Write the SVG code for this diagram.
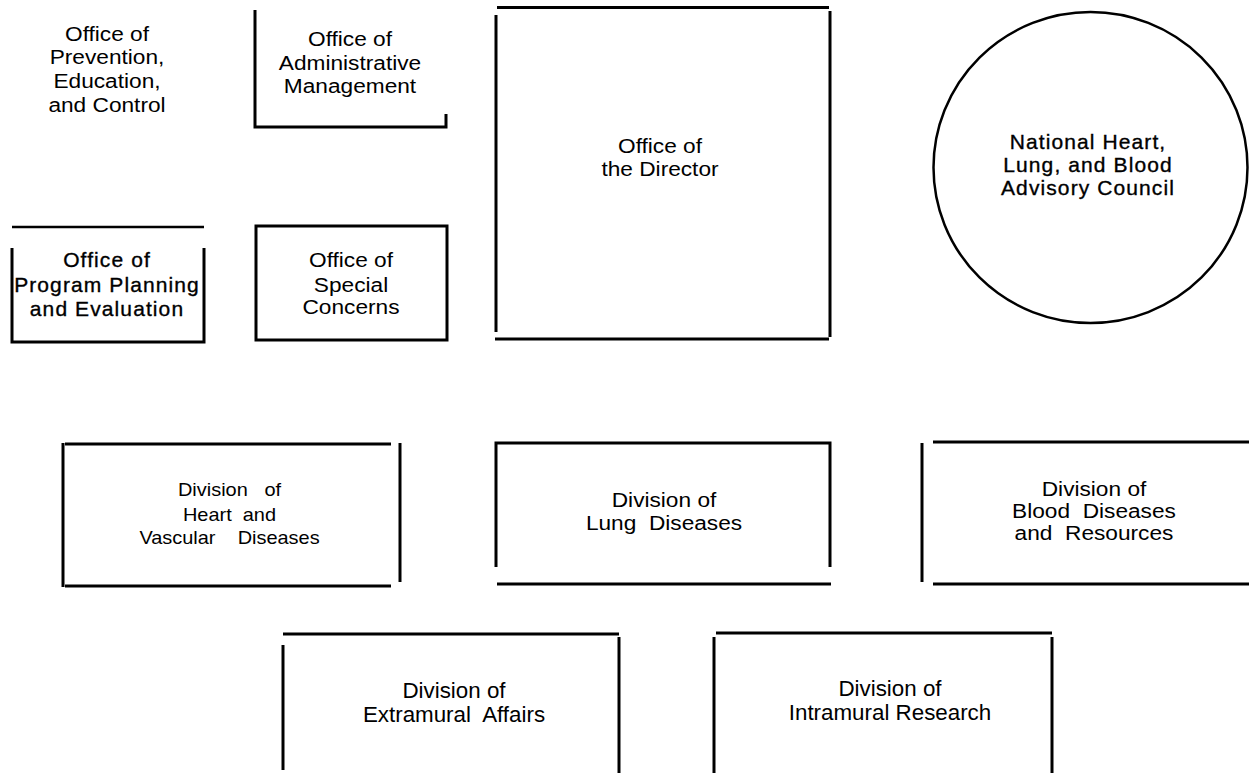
<svg xmlns="http://www.w3.org/2000/svg" width="1249" height="773" viewBox="0 0 1249 773">
<style>
.ln{fill:none;stroke:#000;stroke-width:3;stroke-linecap:butt}
.tn{stroke-width:2.5}
.t{font-family:"Liberation Sans",Arial,sans-serif;font-size:21px;fill:#000;text-anchor:middle;white-space:pre}
.b{letter-spacing:1.1px;stroke:#000;stroke-width:0.35}
.s19{font-size:19px}
.s22{font-size:21.5px}
</style>
<rect width="1249" height="773" fill="#fff"/>
<g id="connectors"/>
<g id="prevention">
<g transform="translate(107 0) scale(1.08 1)"><text class="t"><tspan x="0" y="41">Office of</tspan><tspan x="0" y="64">Prevention,</tspan><tspan x="0" y="88">Education,</tspan><tspan x="0" y="112">and Control</tspan></text></g>
</g>
<g id="admin">
<polyline class="ln" points="255,10 255,127 446,127 446,114"/>
<g transform="translate(350 0) scale(1.08 1)"><text class="t"><tspan x="0" y="46">Office of</tspan><tspan x="0" y="70">Administrative</tspan><tspan x="0" y="93">Management</tspan></text></g>
</g>
<g id="planning">
<line class="ln tn" x1="12" y1="227" x2="204" y2="227"/>
<polyline class="ln" points="12,248 12,342 204,342 204,248"/>
<text class="t b"><tspan x="107" y="267">Office of</tspan><tspan x="107" y="292">Program Planning</tspan><tspan x="107" y="316">and Evaluation</tspan></text>
</g>
<g id="special">
<rect class="ln" x="256" y="226" width="191" height="114"/>
<g transform="translate(351 0) scale(1.08 1)"><text class="t"><tspan x="0" y="267">Office of</tspan><tspan x="0" y="292">Special</tspan><tspan x="0" y="314">Concerns</tspan></text></g>
</g>
<g id="director">
<line class="ln" x1="497" y1="7.5" x2="829" y2="7.5"/>
<line class="ln" x1="496" y1="15" x2="496" y2="332"/>
<line class="ln" x1="830" y1="11" x2="830" y2="337"/>
<line class="ln" x1="495" y1="339" x2="829" y2="339"/>
<g transform="translate(660 0) scale(1.08 1)"><text class="t"><tspan x="0" y="153">Office of</tspan><tspan x="0" y="176">the Director</tspan></text></g>
</g>
<g id="council">
<ellipse class="ln tn" cx="1090.5" cy="167.5" rx="157" ry="155.5"/>
<text class="t b"><tspan x="1088" y="149">National Heart,</tspan><tspan x="1088" y="172">Lung, and Blood</tspan><tspan x="1088" y="195">Advisory Council</tspan></text>
</g>
<g id="heart">
<line class="ln" x1="65" y1="444" x2="391" y2="444"/>
<line class="ln" x1="63" y1="443" x2="63" y2="587"/>
<line class="ln" x1="65" y1="586" x2="391" y2="586"/>
<line class="ln" x1="400" y1="443" x2="400" y2="582"/>
<g transform="translate(229.5 0) scale(1.05 1)"><text class="t s19"><tspan x="0" y="496">Division   of</tspan><tspan x="0" y="521">Heart  and</tspan><tspan x="0" y="544">Vascular    Diseases</tspan></text></g>
</g>
<g id="lung">
<polyline class="ln" points="496,567 496,443 830,443 830,567"/>
<line class="ln" x1="497" y1="584" x2="831" y2="584"/>
<g transform="translate(664 0) scale(1.08 1)"><text class="t"><tspan x="0" y="507">Division of</tspan><tspan x="0" y="530">Lung  Diseases</tspan></text></g>
</g>
<g id="blood">
<line class="ln" x1="922" y1="443" x2="922" y2="582"/>
<line class="ln" x1="933" y1="442" x2="1249" y2="442"/>
<line class="ln" x1="933" y1="584" x2="1249" y2="584"/>
<g transform="translate(1094 0) scale(1.08 1)"><text class="t"><tspan x="0" y="496">Division of</tspan><tspan x="0" y="518">Blood  Diseases</tspan><tspan x="0" y="540">and  Resources</tspan></text></g>
</g>
<g id="extramural">
<line class="ln" x1="283" y1="634" x2="619" y2="634"/>
<line class="ln" x1="283" y1="645" x2="283" y2="770"/>
<line class="ln" x1="619" y1="637" x2="619" y2="773"/>
<g transform="translate(454 0) scale(1.04 1)"><text class="t s22"><tspan x="0" y="698">Division of</tspan><tspan x="0" y="722">Extramural  Affairs</tspan></text></g>
</g>
<g id="intramural">
<line class="ln" x1="716" y1="633" x2="1052" y2="633" stroke-width="4"/>
<line class="ln" x1="714" y1="637" x2="714" y2="773"/>
<line class="ln" x1="1052" y1="637" x2="1052" y2="773"/>
<g transform="translate(890 0) scale(1.04 1)"><text class="t s22"><tspan x="0" y="696">Division of</tspan><tspan x="0" y="720">Intramural Research</tspan></text></g>
</g>
</svg>
